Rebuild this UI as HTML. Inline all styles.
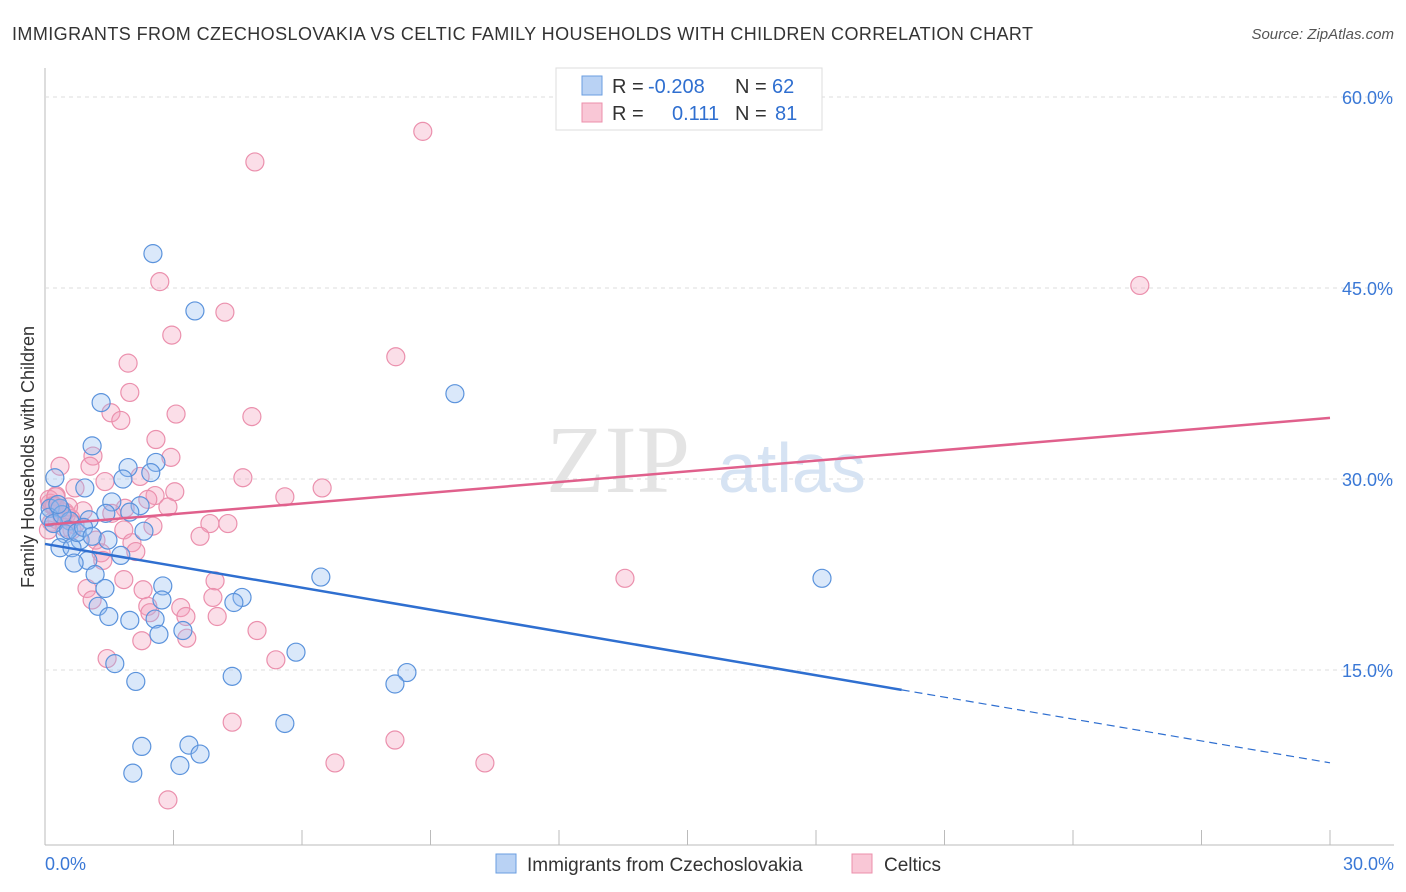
<!DOCTYPE html>
<html><head><meta charset="utf-8"><style>
body{margin:0;background:#fff;font-family:"Liberation Sans",sans-serif;}
svg{display:block}
</style></head><body>
<svg width="1406" height="892" xmlns="http://www.w3.org/2000/svg" font-family="Liberation Sans, sans-serif">
<text x="12" y="40" font-size="18" fill="#333" textLength="1021" lengthAdjust="spacing">IMMIGRANTS FROM CZECHOSLOVAKIA VS CELTIC FAMILY HOUSEHOLDS WITH CHILDREN CORRELATION CHART</text>
<text x="1394" y="39" font-size="15" fill="#555" font-style="italic" text-anchor="end">Source: ZipAtlas.com</text>
<g id="grid"></g>
<text x="690" y="492" font-size="96" fill="#e4e4e4" text-anchor="end" font-family="Liberation Serif, serif">ZIP</text>
<text x="718" y="492" font-size="70" fill="#d6e3f3">atlas</text>
<g id="marks"></g>
<text transform="translate(34,457) rotate(-90)" font-size="18" fill="#333" text-anchor="middle">Family Households with Children</text>
<g>
<rect x="556" y="68" width="266" height="62" fill="#fff" stroke="#ddd"/>
<rect x="582" y="76" width="20" height="19" fill="#b9d2f4" stroke="#6a9ee0"/>
<rect x="582" y="103" width="20" height="19" fill="#f9c7d6" stroke="#ec8fab"/>
<text y="93" font-size="20" fill="#333"><tspan x="612">R = </tspan><tspan x="648" fill="#2f6fd0">-0.208</tspan><tspan x="735">N = </tspan><tspan x="772" fill="#2f6fd0">62</tspan></text>
<text y="120" font-size="20" fill="#333"><tspan x="612">R = </tspan><tspan x="672" fill="#2f6fd0">0.111</tspan><tspan x="735">N = </tspan><tspan x="775" fill="#2f6fd0">81</tspan></text>
</g>
<g>
<rect x="496" y="854" width="20" height="19" fill="#b9d2f4" stroke="#6a9ee0"/>
<text x="527" y="871" font-size="19" fill="#333">Immigrants from Czechoslovakia</text>
<rect x="852" y="854" width="20" height="19" fill="#f9c7d6" stroke="#ec8fab"/>
<text x="884" y="871" font-size="19" fill="#333">Celtics</text>
</g>
</svg>
<script>
const yTicks=[15,30,45,60];
const yTickLabels=["15.0%","30.0%","45.0%","60.0%"];
const xTickCount=10;
const blueX=[2.52,3.50,9.57,1.31,1.10,2.59,1.94,2.47,1.82,0.23,0.93,1.56,2.22,1.42,1.98,0.12,0.35,1.03,0.58,2.31,0.47,0.82,1.47,0.35,0.63,1.77,1.00,0.68,1.17,1.40,6.44,18.14,2.75,2.73,4.60,4.41,1.24,1.49,1.98,2.57,2.66,3.22,5.86,1.63,8.45,8.17,4.37,2.12,5.60,2.26,3.36,3.62,3.15,2.05,0.10,0.20,0.40,0.55,0.75,0.90,1.10,0.30];
const blueY=[47.7,43.2,36.7,36.0,32.6,31.3,30.9,30.5,30.0,30.1,29.3,28.2,27.9,27.3,27.4,27.7,27.7,26.8,26.7,25.9,25.7,25.2,25.2,24.6,24.6,24.0,23.6,23.4,22.5,21.4,22.3,22.2,21.6,20.5,20.7,20.3,20.0,19.2,18.9,19.0,17.8,18.1,16.4,15.5,14.8,13.9,14.5,14.1,10.8,9.0,9.1,8.4,7.5,6.9,27.0,26.5,27.2,26.0,25.8,26.2,25.5,28.0];
const pinkX=[8.82,4.90,25.56,2.68,4.20,2.96,8.19,1.94,1.98,1.54,3.06,4.83,1.77,2.59,1.12,2.94,0.35,1.05,4.62,2.22,0.70,1.40,3.03,6.47,2.57,5.60,0.26,2.40,2.87,0.89,1.87,1.56,0.12,0.47,0.28,0.63,3.85,4.27,2.52,1.84,3.62,1.19,2.03,1.31,2.12,1.35,13.54,1.84,3.97,0.98,2.29,3.92,1.10,2.40,3.17,2.45,4.02,3.29,4.95,2.26,3.31,1.45,5.39,4.37,8.17,6.77,10.27,2.87,0.10,0.18,0.25,0.32,0.40,0.50,0.60,0.15,0.22,0.45,0.55,0.70,0.08];
const pinkY=[57.3,54.9,45.2,45.5,43.1,41.3,39.6,39.1,36.8,35.2,35.1,34.9,34.6,33.1,31.8,31.7,31.0,31.0,30.1,30.2,29.3,29.8,29.0,29.3,28.7,28.6,28.7,28.4,27.8,27.5,27.7,27.3,28.1,27.4,26.8,26.0,26.5,26.5,26.3,26.0,25.5,25.2,25.0,24.2,24.3,23.6,22.2,22.1,22.0,21.4,21.3,20.7,20.5,20.0,19.9,19.5,19.2,19.2,18.1,17.3,17.5,15.9,15.8,10.9,9.5,7.7,7.7,4.8,28.4,27.9,28.6,27.6,27.0,27.2,26.9,26.6,27.9,26.2,27.8,26.4,26.0];
const blueTrend=[24.9,-0.573];
const pinkTrend=[26.4,0.28];
const ns="http://www.w3.org/2000/svg";
const X=v=>45+v/30*1285, Y=v=>861-v/15*191;
function mk(t,a,p){const e=document.createElementNS(ns,t);for(const k in a)e.setAttribute(k,a[k]);p.appendChild(e);return e;}
const g=document.getElementById('grid'), m=document.getElementById('marks');
const ax=mk('line',{x1:45,y1:68,x2:45,y2:845,stroke:'#bbb'},g);


const bx=mk('line',{x1:45,y1:845,x2:1394,y2:845,stroke:'#bbb'},g);


yTicks.forEach((t,i)=>{
 const l=mk('line',{x1:45,x2:1394,y1:Y(t),y2:Y(t),stroke:'#ddd','stroke-dasharray':'4,4'},g);
 
 
 const tx=mk('text',{x:1393,y:Y(t)+7,'font-size':18,fill:'#3a78d6','text-anchor':'end'},g);
 tx.textContent=yTickLabels[i];
 
 
});
for(let i=0;i<=xTickCount;i++){
 const x=X(i*3);
 const l=mk('line',{x1:x,x2:x,y1:830,y2:845,stroke:'#bbb'},g);
 
 
}
const x0=mk('text',{x:45,y:870,'font-size':18,fill:'#3a78d6'},g);x0.textContent='0.0%';


const x1=mk('text',{x:1394,y:870,'font-size':18,fill:'#3a78d6','text-anchor':'end'},g);x1.textContent='30.0%';


pinkX.forEach((v,i)=>{const c=mk('circle',{cx:X(v),cy:Y(pinkY[i]),r:9,fill:'rgba(244,160,188,0.35)',stroke:'#eb90ad','stroke-width':1.2},m);

});
blueX.forEach((v,i)=>{const c=mk('circle',{cx:X(v),cy:Y(blueY[i]),r:9,fill:'rgba(150,190,240,0.35)',stroke:'#5b93dc','stroke-width':1.2},m);

});
const pl=mk('line',{x1:X(0),y1:Y(pinkTrend[0]),x2:X(30),y2:Y(pinkTrend[0]+30*pinkTrend[1]),stroke:'#e0608c','stroke-width':2.5},m);


const bl=mk('line',{x1:X(0),y1:Y(blueTrend[0]),x2:X(20),y2:Y(blueTrend[0]+20*blueTrend[1]),stroke:'#2f6fd0','stroke-width':2.5},m);


const bd=mk('line',{x1:X(20),y1:Y(blueTrend[0]+20*blueTrend[1]),x2:X(30),y2:Y(blueTrend[0]+30*blueTrend[1]),stroke:'#2f6fd0','stroke-width':1.2,'stroke-dasharray':'8,5'},m);


</script>
</body></html>
